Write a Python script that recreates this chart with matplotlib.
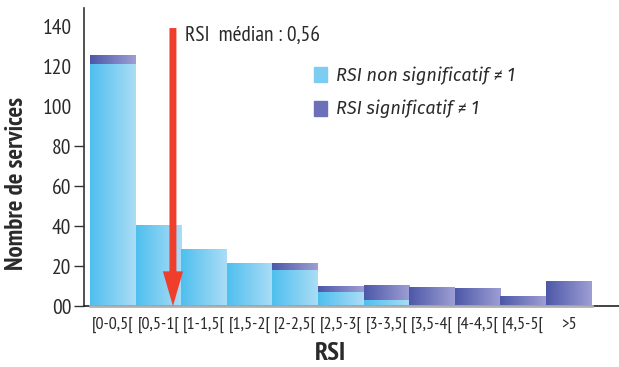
import numpy as np
import matplotlib.pyplot as plt
from matplotlib.patches import Patch

categories = ['[0-0,5[', '[0,5-1[', '[1-1,5[', '[1,5-2[', '[2-2,5[', '[2,5-3[',
              '[3-3,5[', '[3,5-4[', '[4-4,5[', '[4,5-5[', '>5']
non_signif = [121, 40, 28, 21, 18, 7, 3, 0, 0, 0, 0]
signif = [4, 0, 0, 0, 3, 2.5, 7, 9, 8.5, 4.5, 12]
yticks = [0, 20, 40, 60, 80, 100, 120, 140]
ytick_labels = ['00', '20', '40', '60', '80', '100', '120', '140']
median_pos = 1.32
median_label = 'RSI  médian : 0,56'

NARROW = ['PT Sans Narrow', 'Roboto Condensed', 'DejaVu Sans']
ITAL = ['Fira Sans', 'DejaVu Sans']
BLUE = ('#4fbfee', '#abddf6')
PURPLE = ('#4d58a8', '#9d9ed3')
INK = '#2a2a2a'

def gradient_fill(ax, bars, colors):
    c0 = np.array(plt.matplotlib.colors.to_rgb(colors[0]))
    c1 = np.array(plt.matplotlib.colors.to_rgb(colors[1]))
    t = np.linspace(0, 1, 64)
    img = (c0[None, :] * (1 - t[:, None]) + c1[None, :] * t[:, None])[None, :, :]
    for b in bars:
        h = b.get_height()
        if h <= 0:
            continue
        x0, y0, w = b.get_x(), b.get_y(), b.get_width()
        ax.imshow(img, extent=(x0, x0 + w, y0, y0 + h), aspect='auto',
                  interpolation='bicubic', zorder=2)

fig = plt.figure(figsize=(6.19, 3.67), dpi=100)
ax = fig.add_axes([0.1357, 0.166, 0.8643, 0.812])

x = np.arange(len(categories))
b1 = ax.bar(x, non_signif, width=1.0, color='#7dcdf2', zorder=1)
b2 = ax.bar(x, signif, width=1.0, bottom=non_signif, color='#7579bd', zorder=1)
gradient_fill(ax, b1, BLUE)
gradient_fill(ax, b2, PURPLE)

ax.set_xlim(-0.63, 11.1)
ax.set_ylim(0, 149)

# gray baseline under the bars
ax.plot([-0.5, 10.5], [0, 0], color='#b0b0b0', lw=2, zorder=3, clip_on=False)

# median arrow
ax.annotate('', xy=(median_pos, 0), xytext=(median_pos, 139),
            arrowprops=dict(arrowstyle='simple,head_length=2.5,head_width=1.45,tail_width=0.5',
                            mutation_scale=10, fc='#ef3e2c', ec='none', lw=0,
                            shrinkA=0, shrinkB=0),
            zorder=5)
ax.text(median_pos + 0.27, 135.5, median_label, family=NARROW, fontsize=15.5,
        va='center', ha='left', color=INK)

for s in ['top', 'right']:
    ax.spines[s].set_visible(False)
ax.spines['left'].set_linewidth(1.2)
ax.spines['bottom'].set_linewidth(1.2)
ax.spines['left'].set_color('#333333')
ax.spines['bottom'].set_color('#222222')

ax.set_yticks(yticks)
ax.set_yticklabels(ytick_labels, family=NARROW, fontsize=15.5, color=INK)
ax.tick_params(axis='y', length=7, width=1, color='#333333', pad=2)
for t in ax.yaxis.get_major_ticks()[5:]:
    t.tick1line.set_visible(False)
ax.set_xticks(x)
ax.set_xticklabels(categories, family=NARROW, fontsize=13, color=INK)
ax.tick_params(axis='x', length=0, pad=8)

ax.set_ylabel('Nombre de services', family=NARROW, fontsize=18,
              fontweight='bold', color=INK, labelpad=12)
ax.yaxis.set_label_coords(-0.105, 0.41)
ax.set_xlabel('RSI', family=NARROW, fontsize=19, fontweight='bold',
              color=INK, labelpad=4)
ax.xaxis.set_label_coords(0.46, -0.12)

handles = [Patch(color='#7dcdf2'), Patch(color='#6c70b8')]
leg = ax.legend(handles, ['RSI non significatif ≠ 1', 'RSI significatif ≠ 1'],
                loc='upper left', bbox_to_anchor=(0.40, 0.86), frameon=False,
                prop=dict(family=ITAL, style='italic', size=13),
                handlelength=0.7, handleheight=0.9, handletextpad=0.5,
                labelspacing=0.85)
for txt in leg.get_texts():
    txt.set_color(INK)

fig.savefig('out.png', dpi=100)
